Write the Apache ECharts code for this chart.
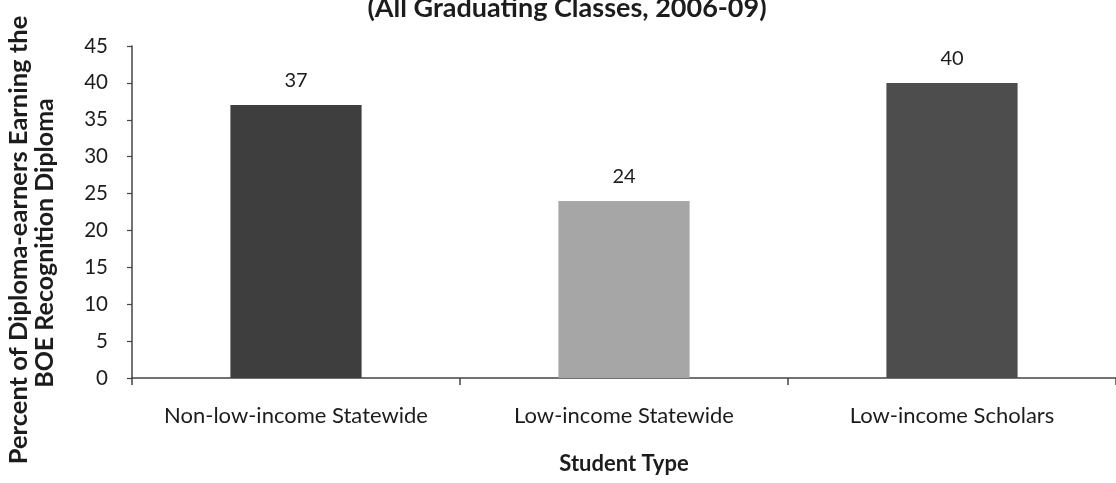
<!DOCTYPE html>
<html><head><meta charset="utf-8">
<script src="https://cdn.jsdelivr.net/npm/echarts@6/dist/echarts.min.js"></script>
<style>html,body{margin:0;padding:0;background:#fff}#c{width:1116px;height:483px}</style>
</head><body><div id="c"></div>
<script>
const categories = ["Non-low-income Statewide", "Low-income Statewide", "Low-income Scholars"];
const values = [37, 24, 40];
const barColors = ["#3e3e3e", "#a6a6a6", "#4d4d4d"];
const titleText = "(All Graduating Classes, 2006-09)";
const yNameLine1 = "Percent of Diploma-earners Earning the";
const yNameLine2 = "BOE Recognition Diploma";
const xName = "Student Type";

const font = "Lato, 'Open Sans', sans-serif";
const txt = '#1c1c1c';
const chart = echarts.init(document.getElementById('c'));
chart.setOption({
  animation: false,
  title: {text: titleText, left: 562, textAlign: 'center', top: -10,
    textStyle: {fontFamily: font, fontSize: 27, fontWeight: 'bold', color: txt}},
  grid: {left: 132, top: 46, width: 990, height: 332, containLabel: false},
  graphic: [
    {type: 'text', x: 19, y: 240, rotation: Math.PI / 2,
      style: {text: yNameLine1, fontFamily: font, fontSize: 25.5, fontWeight: 'bold', fill: txt,
        textAlign: 'center', textVerticalAlign: 'middle'}},
    {type: 'text', x: 45, y: 243, rotation: Math.PI / 2,
      style: {text: yNameLine2, fontFamily: font, fontSize: 25, fontWeight: 'bold', fill: txt,
        textAlign: 'center', textVerticalAlign: 'middle'}}
  ],
  xAxis: {
    type: 'category', data: categories,
    name: xName, nameLocation: 'middle', nameGap: 75,
    nameTextStyle: {fontFamily: font, fontSize: 22, fontWeight: 'bold', color: txt},
    axisLine: {lineStyle: {color: '#444', width: 1.5}},
    axisTick: {show: true, interval: 0, alignWithLabel: false, length: 7, lineStyle: {color: '#444', width: 1.5}},
    axisLabel: {interval: 0, fontFamily: font, fontSize: 22, color: txt, margin: 27}
  },
  yAxis: {
    type: 'value', min: 0, max: 45, interval: 5,
    axisLine: {show: true, lineStyle: {color: '#444', width: 1.5}},
    axisTick: {show: true, length: 5, lineStyle: {color: '#444', width: 1.2}},
    axisLabel: {fontFamily: font, fontSize: 20.5, color: txt, margin: 24},
    splitLine: {show: false}
  },
  series: [{
    type: 'bar', barWidth: '40%',
    data: values.map((v, i) => ({value: v, itemStyle: {color: barColors[i]}})),
    label: {show: true, position: 'top', distance: 14, fontFamily: font, fontSize: 20, color: txt}
  }]
});
</script></body></html>
